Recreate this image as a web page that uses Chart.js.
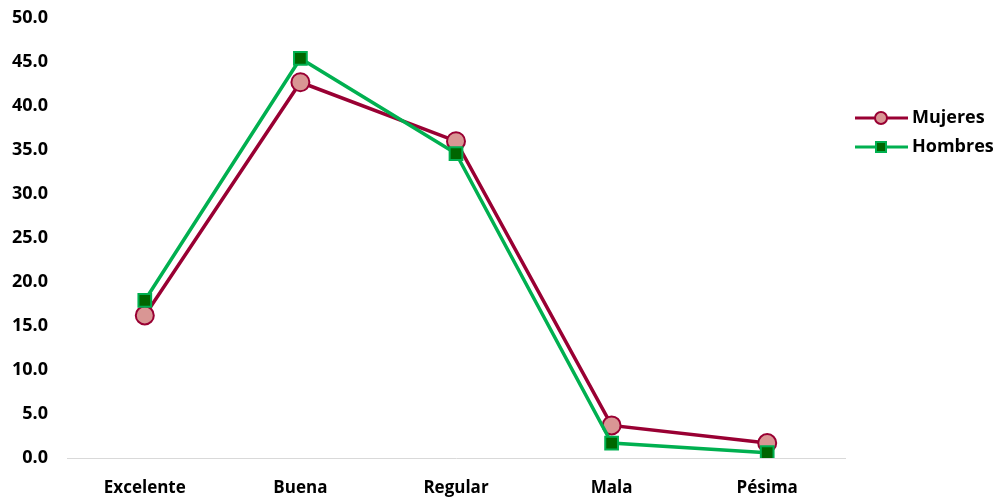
<!DOCTYPE html>
<html>
<head>
<meta charset="utf-8">
<script src="https://cdn.jsdelivr.net/npm/chart.js@4.4.1/dist/chart.umd.min.js"></script>
<style>
  html, body { margin: 0; padding: 0; background: #fff; }
  #wrap { width: 994px; height: 498px; position: relative; }
</style>
</head>
<body>
<div id="wrap"><canvas id="chart"></canvas></div>
<script>
const categories = ['Excelente', 'Buena', 'Regular', 'Mala', 'Pésima'];
const mujeres = [16.2, 42.7, 36.0, 3.7, 1.7];
const hombres = [17.9, 45.4, 34.6, 1.7, 0.6];
const seriesNames = ['Mujeres', 'Hombres'];

const FONT = "'Open Sans', sans-serif";

// legend drawn next to the plot: line sample with marker, like the original
const sideLegend = {
  id: 'sideLegend',
  afterDraw(chart) {
    const ctx = chart.ctx;
    const items = [
      { name: seriesNames[0], y: 118, line: '#990033', fill: '#D99694', shape: 'circle' },
      { name: seriesNames[1], y: 147, line: '#00B050', fill: '#006600', shape: 'rect' }
    ];
    ctx.save();
    items.forEach(it => {
      ctx.strokeStyle = it.line;
      ctx.lineWidth = 3;
      ctx.beginPath();
      ctx.moveTo(855, it.y);
      ctx.lineTo(908, it.y);
      ctx.stroke();
      ctx.fillStyle = it.fill;
      ctx.lineWidth = 2;
      if (it.shape === 'circle') {
        ctx.beginPath();
        ctx.arc(881, it.y, 6, 0, Math.PI * 2);
        ctx.fill();
        ctx.stroke();
      } else {
        ctx.fillRect(876, it.y - 5, 10, 10);
        ctx.strokeRect(876, it.y - 5, 10, 10);
      }
      ctx.fillStyle = '#000';
      ctx.font = 'bold 18px ' + FONT;
      ctx.textAlign = 'left';
      ctx.textBaseline = 'middle';
      ctx.fillText(it.name, 912, it.y);
    });
    ctx.restore();
  }
};

new Chart(document.getElementById('chart'), {
  type: 'line',
  data: {
    labels: categories,
    datasets: [
      {
        label: seriesNames[1],
        data: hombres,
        borderColor: '#00B050',
        backgroundColor: '#006600',
        pointBackgroundColor: '#006600',
        pointBorderColor: '#00B050',
        pointBorderWidth: 2,
        pointStyle: 'rect',
        pointRadius: 9,
        borderWidth: 3.5,
        tension: 0
      },
      {
        label: seriesNames[0],
        data: mujeres,
        borderColor: '#990033',
        backgroundColor: '#D99694',
        pointBackgroundColor: '#D99694',
        pointBorderColor: '#990033',
        pointBorderWidth: 2,
        pointStyle: 'circle',
        pointRadius: 9,
        borderWidth: 3.5,
        tension: 0
      }
    ]
  },
  options: {
    responsive: true,
    maintainAspectRatio: false,
    animation: false,
    layout: { padding: { top: 18, right: 149, left: 0, bottom: 0 } },
    plugins: {
      legend: { display: false },
      tooltip: { enabled: false }
    },
    scales: {
      x: {
        offset: true,
        grid: { display: false, drawTicks: false },
        border: { display: true, color: '#D9D9D9', width: 1 },
        ticks: { color: '#000', font: { family: FONT, size: 17, weight: 'bold' }, padding: 20 },
        afterFit(scale) { scale.height = 40; }
      },
      y: {
        min: 0,
        max: 50,
        grid: { display: false, drawTicks: false },
        border: { display: false },
        ticks: {
          stepSize: 5,
          color: '#000',
          padding: 19,
          font: { family: FONT, size: 18, weight: 'bold' },
          callback: v => v.toFixed(1)
        },
        afterFit(scale) {
          scale.width = 67;
          scale.paddingTop = 0;
          scale.paddingBottom = 0;
        }
      }
    }
  },
  plugins: [sideLegend]
});
</script>
</body>
</html>
